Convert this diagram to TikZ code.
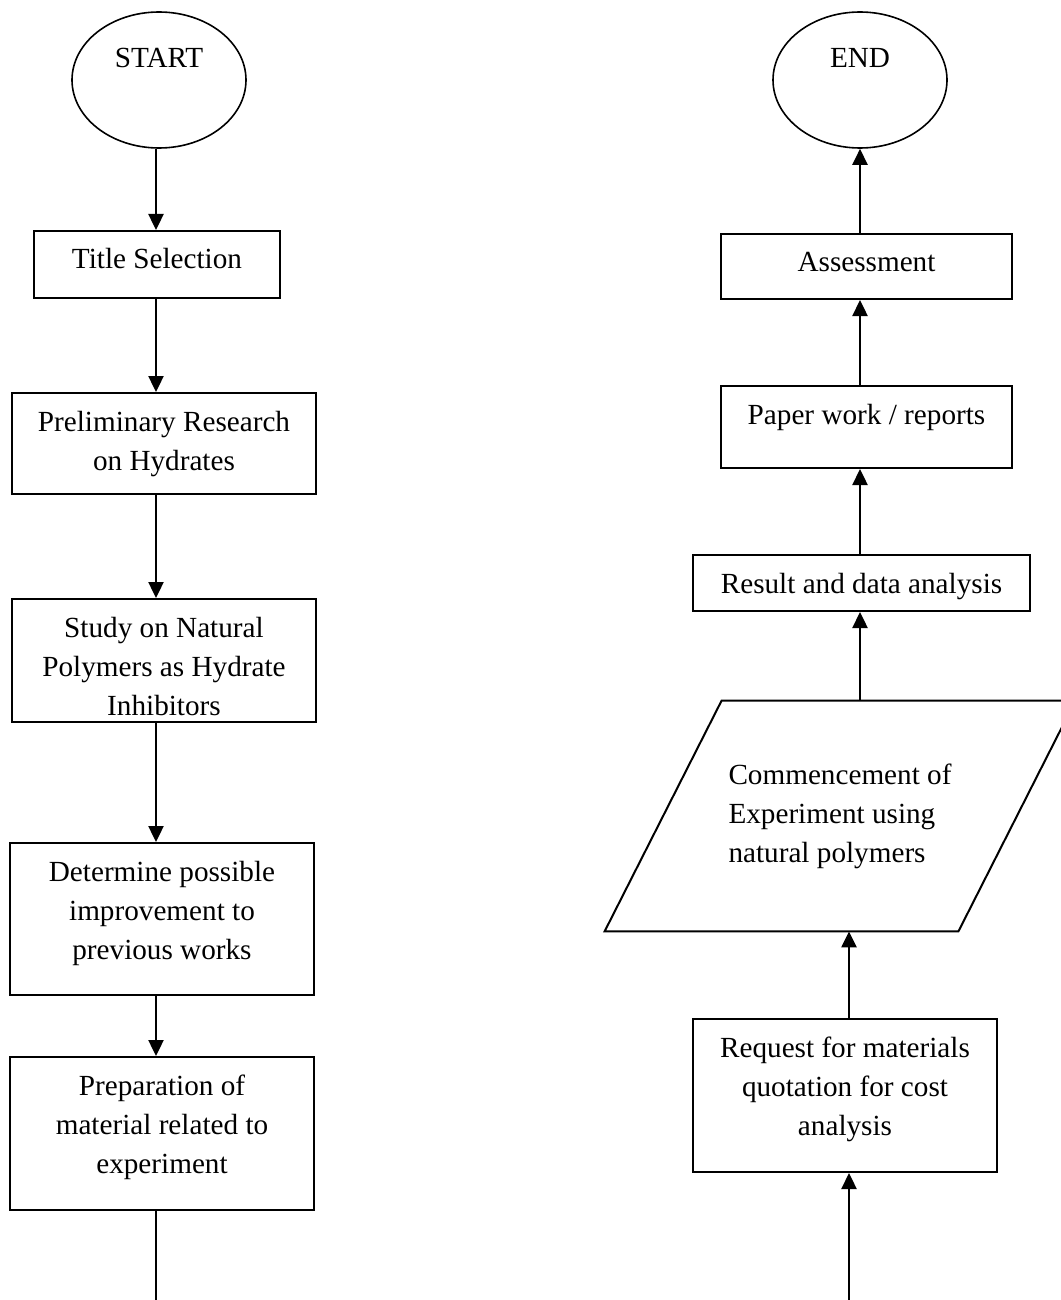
\documentclass[tikz,border=0pt]{standalone}
\usepackage{fontspec}
\setmainfont{Liberation Serif}
\usetikzlibrary{shapes.geometric, arrows.meta}

\tikzset{
  stepbox/.style={draw, line width=1pt, inner sep=0pt},
  terminal/.style={draw, ellipse, line width=0.8pt, inner sep=0pt,
    minimum width=87pt, minimum height=68pt, text height=10pt, text depth=22.4pt},
  flow/.style={line width=1.2pt, -{Triangle[length=8pt, width=7.5pt]}},
}
% top aligned text inside a box of given width and height
\newcommand{\boxtxt}[3]{\parbox[c][#2][t]{#1}{\centering\rule{0pt}{19pt}#3}}

\begin{document}
\begin{tikzpicture}[x=0.5pt, y=-0.5pt, font=\fontsize{14.6pt}{19.5pt}\selectfont]

    \useasboundingbox (0,0) rectangle (1060,1300);

    % Columns
    \coordinate (lcol) at (156,0);
    \coordinate (rcol) at (860,0);
    \coordinate (lbot) at (156,1300);
    \coordinate (rbot) at (849,1300);

    % Left column
    \node[terminal] (start) at (159,80) {START};
    \node[stepbox] (title) at (157,264.5) {\boxtxt{123pt}{33.5pt}{Title Selection}};
    \node[stepbox] (prelim) at (164,443.5) {\boxtxt{152pt}{50.5pt}{Preliminary Research\\on Hydrates}};
    \node[stepbox] (study) at (164,660.5) {\boxtxt{152pt}{61.5pt}{Study on Natural\\Polymers as Hydrate\\Inhibitors}};
    \node[stepbox] (improve) at (162,919) {\boxtxt{152pt}{76pt}{Determine possible\\improvement to\\previous works}};
    \node[stepbox] (prep) at (162,1133.5) {\boxtxt{152pt}{76.5pt}{Preparation of\\material related to\\experiment}};

    % Right column
    \node[terminal] (finish) at (860,80) {END};
    \node[stepbox] (assess) at (866.5,266.5) {\boxtxt{145.5pt}{32.5pt}{Assessment}};
    \node[stepbox] (paper) at (866.5,427) {\boxtxt{145.5pt}{41pt}{Paper work / reports}};
    \node[stepbox] (result) at (861.5,583) {\boxtxt{168.5pt}{28pt}{Result and data analysis}};
    \node[minimum width=176.5pt, minimum height=115pt, inner sep=0pt, align=left] (comm) at (840,816)
      {Commencement of\\Experiment using\\natural polymers};
    \draw[line width=1pt] ([xshift=-29.25pt]comm.south west) -- ([xshift=29.25pt]comm.north west)
      -- ([xshift=29.25pt]comm.north east) -- ([xshift=-29.25pt]comm.south east) -- cycle;
    \node[stepbox] (quote) at (845,1095.5) {\boxtxt{152pt}{76.5pt}{Request for materials\\quotation for cost\\analysis}};

    % Arrows, left
    \draw[flow] (start.south -| lcol) -- (title.north -| lcol);
    \draw[flow] (title.south -| lcol) -- (prelim.north -| lcol);
    \draw[flow] (prelim.south -| lcol) -- (study.north -| lcol);
    \draw[flow] (study.south -| lcol) -- (improve.north -| lcol);
    \draw[flow] (improve.south -| lcol) -- (prep.north -| lcol);
    \draw[line width=0.8pt] (prep.south -| lcol) -- (lbot);

    % Arrows, right
    \draw[flow] (rbot) -- (quote.south -| rbot);
    \draw[flow] (quote.north -| rbot) -- (comm.south -| rbot);
    \draw[flow] (comm.north -| rcol) -- (result.south -| rcol);
    \draw[flow] (result.north -| rcol) -- (paper.south -| rcol);
    \draw[flow] (paper.north -| rcol) -- (assess.south -| rcol);
    \draw[flow] (assess.north -| rcol) -- (finish.south -| rcol);

\end{tikzpicture}
\end{document}
